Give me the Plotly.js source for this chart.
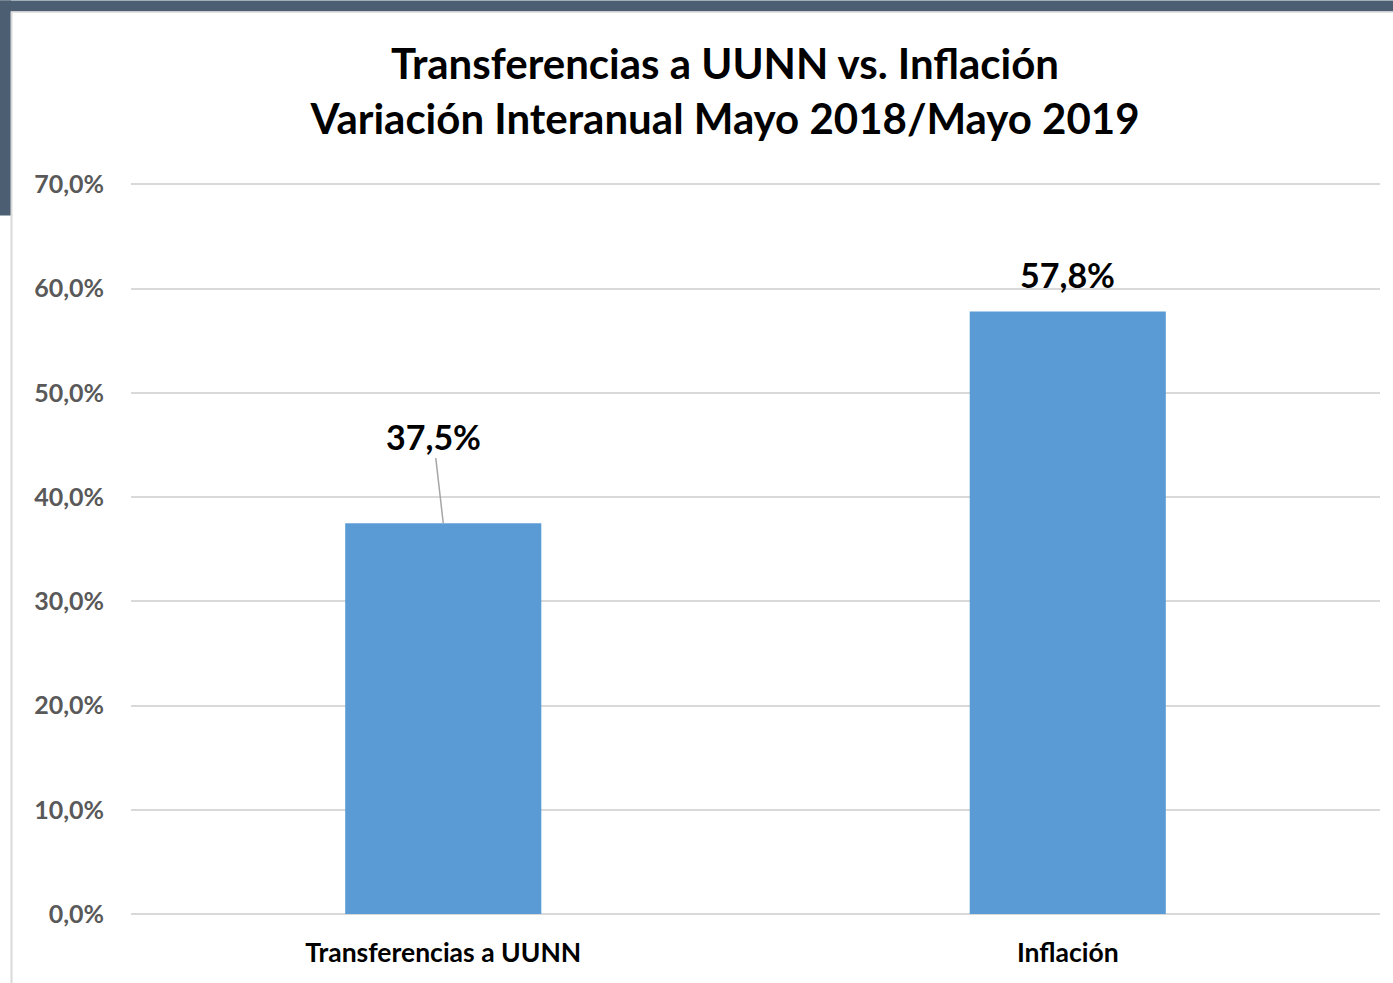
<!DOCTYPE html>
<html>
<head>
<meta charset="utf-8">
<script src="https://cdn.plot.ly/plotly-3.0.1.min.js"></script>
<style>html,body{margin:0;padding:0;background:#fff;}#chart{width:1393px;height:983px;}</style>
</head>
<body>
<div id="chart"></div>
<script>
const categories = ["Transferencias a UUNN", "Inflación"];
const values = [37.5, 57.8];
const valueLabels = ["37,5%", "57,8%"];
const tickValues = [0, 10, 20, 30, 40, 50, 60, 70];
const tickLabels = ["0,0%", "10,0%", "20,0%", "30,0%", "40,0%", "50,0%", "60,0%", "70,0%"];

const FONT = "Lato, 'Open Sans', sans-serif";
const YMAX = 71;
const W = 1393, H = 983, L = 131, R = 13, B = 69;
const T = 184 - (YMAX - 70) * (730 / 70);
const pw = W - L - R, ph = H - T - B;
const px = p => (p - L) / pw;
const py = p => (H - B - p) / ph;

const trace = {
  type: "bar",
  x: categories,
  y: values,
  marker: {color: "#5b9bd5"},
  hoverinfo: "skip"
};

const annotations = [
  {x: categories[0], y: values[0], text: "<b>" + valueLabels[0] + "</b>", showarrow: true,
   arrowhead: 0, arrowwidth: 1.5, arrowcolor: "#a6a6a6", ax: -10, ay: -87, standoff: 0,
   font: {family: FONT, size: 34, color: "#000"}},
  {x: categories[1], y: values[1], text: "<b>" + valueLabels[1] + "</b>", showarrow: false,
   yanchor: "middle", yshift: 37, font: {family: FONT, size: 34, color: "#000"}}
];

const bandColor = "#4b5e72";
const shapes = [
  {type: "rect", xref: "paper", yref: "paper", x0: px(0), x1: px(W), y0: py(0), y1: py(11),
   fillcolor: bandColor, line: {width: 0}, layer: "below"},
  {type: "rect", xref: "paper", yref: "paper", x0: px(0), x1: px(11), y0: py(0), y1: py(215),
   fillcolor: bandColor, line: {width: 0}, layer: "below"},
  {type: "line", xref: "paper", yref: "paper", x0: px(11.5), x1: px(11.5), y0: py(11), y1: py(H),
   line: {color: "#d9d9d9", width: 2}, layer: "below"},
  {type: "line", xref: "paper", yref: "paper", x0: px(11), x1: px(W), y0: py(11.5), y1: py(11.5),
   line: {color: "#d9d9d9", width: 1.5}, layer: "below"}
];

const layout = {
  width: W, height: H,
  margin: {l: L, r: R, t: T, b: B},
  paper_bgcolor: "#ffffff",
  plot_bgcolor: "#ffffff",
  showlegend: false,
  bargap: 0.686,
  title: {
    text: "<b>Transferencias a UUNN vs. Inflación<br>Variación Interanual Mayo 2018/Mayo 2019</b>",
    font: {family: FONT, size: 42, color: "#000"},
    x: (725 - L) / pw, xanchor: "center", xref: "paper",
    y: 1 - 79 / H, yanchor: "middle"
  },
  xaxis: {
    type: "category",
    tickfont: {family: FONT, size: 26.5, color: "#000", weight: "bold"},
    ticks: "", showline: false, showgrid: false,
    ticklabelstandoff: 20,
    fixedrange: true
  },
  yaxis: {
    range: [0, YMAX],
    tickvals: tickValues,
    ticktext: tickLabels,
    tickfont: {family: FONT, size: 25, color: "#595959", weight: "bold"},
    gridcolor: "#d9d9d9", gridwidth: 2,
    zeroline: true, zerolinecolor: "#d9d9d9", zerolinewidth: 2,
    showline: false, ticks: "",
    ticklabelstandoff: 26,
    fixedrange: true
  },
  annotations: annotations,
  shapes: shapes
};

Plotly.newPlot("chart", [trace], layout, {displayModeBar: false, staticPlot: true});
</script>
</body>
</html>
